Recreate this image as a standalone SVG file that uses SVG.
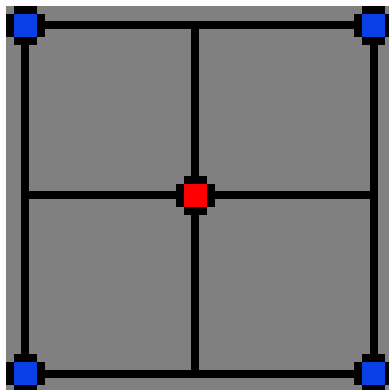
<svg xmlns="http://www.w3.org/2000/svg" width="389" height="390" viewBox="0 0 389 390">
<style>
.e{stroke:#000;stroke-width:8;fill:none}
.k{fill:#000}
.b{fill:#0b3fe6}
.r{fill:#ff0000}
</style>
<defs>
<g id="cross"><rect class="k" x="-11.5" y="-19.5" width="23" height="39"/><rect class="k" x="-19.5" y="-11.5" width="39" height="23"/></g>
</defs>
<rect x="0" y="0" width="389" height="390" fill="#fff"/>
<rect x="6" y="6" width="383" height="384" fill="#808080"/>
<g id="connectors">
<line class="e" x1="25" y1="25" x2="374" y2="25"/>
<line class="e" x1="25" y1="374" x2="374" y2="374"/>
<line class="e" x1="25" y1="25" x2="25" y2="374"/>
<line class="e" x1="374" y1="25" x2="374" y2="374"/>
<line class="e" x1="195" y1="25" x2="195" y2="374"/>
<line class="e" x1="25" y1="195" x2="374" y2="195"/>
</g>
<g id="n-tl" transform="translate(25.5,25.5)"><use href="#cross"/><rect class="b" x="-11.5" y="-11.5" width="23" height="23"/></g>
<g id="n-tr" transform="translate(373.5,25.5)"><use href="#cross"/><rect class="b" x="-11.5" y="-11.5" width="23" height="23"/></g>
<g id="n-bl" transform="translate(25.5,373.5)"><use href="#cross"/><rect class="b" x="-11.5" y="-11.5" width="23" height="23"/></g>
<g id="n-br" transform="translate(373.5,373.5)"><use href="#cross"/><rect class="b" x="-11.5" y="-11.5" width="23" height="23"/></g>
<g id="n-c" transform="translate(195.5,195.5)"><use href="#cross"/><rect class="r" x="-11.5" y="-11.5" width="23" height="23"/></g>
</svg>
